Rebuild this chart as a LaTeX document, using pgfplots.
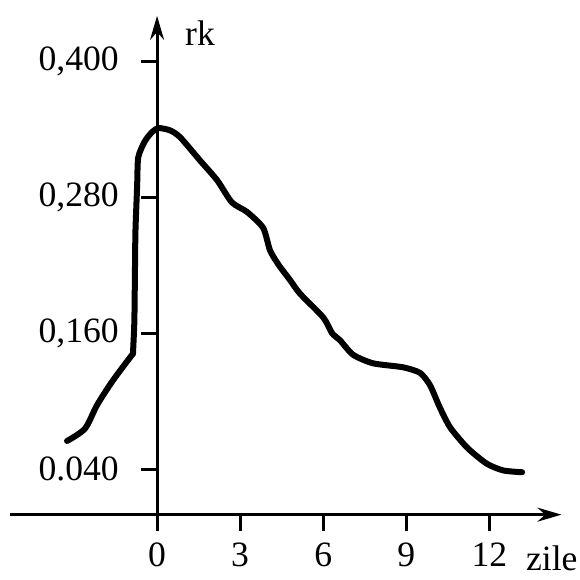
\documentclass[border=0pt]{standalone}
\usepackage{pgfplots}
\pgfplotsset{compat=1.18}
\usetikzlibrary{arrows.meta}
\usepackage{fontspec}
\setmainfont{Liberation Serif}
\begin{document}
\fontsize{17.8}{20}\selectfont
\begin{tikzpicture}
\begin{axis}[
  scale only axis,
  width=275.5pt, height=249.3pt,
  xmin=-5.3, xmax=14.6, ymin=0, ymax=0.44,
  axis lines=middle,
  axis line style={line width=1.5pt, -{Stealth[length=12pt,width=7pt]}},
  tick align=outside,
  major tick length=8pt,
  tick style={line width=1.5pt, black},
  hide obscured x ticks=false,
  hide obscured y ticks=false,
  xtick={0,3,6,9,12},
  xticklabels={0,3,6,9,12},
  ytick={0.04,0.16,0.28,0.40},
  yticklabels={\mbox{0.040},\mbox{0,160},\mbox{0,280},\mbox{0,400}},
  xticklabel style={font=\fontsize{17.8}{20}\selectfont, yshift=-5pt, inner sep=1pt},
  yticklabel style={font=\fontsize{17.8}{20}\selectfont, xshift=-5pt},
  clip=false,
]
\coordinate (bbll) at (axis cs:-5.67,-0.0575);
\coordinate (bbur) at (axis cs:15.27,0.454);
\addplot[black, line width=3pt, line cap=round, line join=round, smooth, tension=0.5] coordinates {
(-3.25,0.065) (-2.6,0.076) (-2.17,0.0965) (-1.59,0.1185) (-0.87,0.142)
};
\addplot[black, line width=3pt, line cap=round, line join=round, smooth, tension=0.4] coordinates {
(-0.87,0.142) (-0.82,0.17) (-0.80,0.21) (-0.78,0.25) (-0.72,0.289) (-0.68,0.315)
(-0.45,0.329) (-0.2,0.337) (0.05,0.341) (0.47,0.339) (0.83,0.333) (1.55,0.3125)
(2.17,0.295) (2.7,0.2755) (3.25,0.267) (3.83,0.253) (4.08,0.233) (4.4,0.22)
(4.8,0.207) (5.16,0.195) (6.0,0.174) (6.32,0.16) (6.6,0.154) (7.08,0.141)
(7.8,0.1335) (8.88,0.13) (9.5,0.125) (9.86,0.114) (10.2,0.095) (10.58,0.077)
(11.2,0.059) (11.9,0.045) (12.5,0.039) (13.18,0.0374)
};
\node at (axis cs:1.55,0.425) {rk};
\node[inner sep=1pt] at (axis cs:14.25,-0.0386) {zile};
\end{axis}
\pgfresetboundingbox
\path[use as bounding box] (bbll) rectangle (bbur);
\end{tikzpicture}
\end{document}
